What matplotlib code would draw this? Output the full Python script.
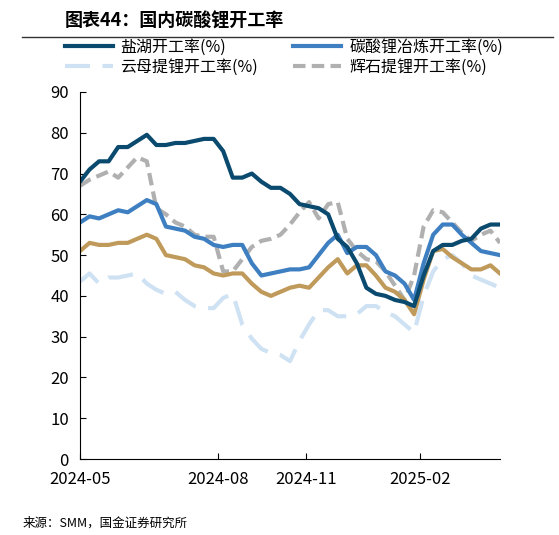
import matplotlib.pyplot as plt
from matplotlib.lines import Line2D

plt.rcParams['font.family'] = ['Noto Sans CJK SC', 'DejaVu Sans']

salt_lake = [68, 71, 73, 73, 76.5, 76.5, 78, 79.5, 77, 77, 77.5, 77.5, 78, 78.5, 78.5,
             75.5, 69, 69, 70, 68, 66.5, 66.5, 65, 62.5, 62, 61.5, 60, 54, 52, 48,
             42, 40.5, 40, 39, 38.5, 37.5, 45, 51, 52.5, 52.5, 53.5, 54, 56.5, 57.5, 57.5]
carbonate = [58, 59.5, 59, 60, 61, 60.5, 62, 63.5, 62.5, 57, 56.5, 56, 54.5, 54, 52.5,
             52, 52.5, 52.5, 48, 45, 45.5, 46, 46.5, 46.5, 47, 50, 53, 55, 50.5, 52,
             52, 50, 46, 45, 43, 39, 48, 55, 57.5, 57.5, 55, 53, 51, 50.5, 50]
total = [51, 53, 52.5, 52.5, 53, 53, 54, 55, 54, 50, 49.5, 49, 47.5, 47, 45.5,
         45, 45.5, 45.5, 43, 41, 40, 41, 42, 42.5, 42, 44.5, 47, 49, 45.5, 47.5,
         47.5, 45, 42, 41, 39, 35.5, 44, 51, 51.5, 49.5, 48, 46.5, 46.5, 47.5, 45.5]
lepidolite = [43.5, 45.5, 43, 44.5, 44.5, 45, 45.5, 43, 41.5, 40.5, 41, 39, 37.5, 37, 37,
              39.5, 40.5, 33, 29.5, 27, 26, 25.5, 24, 29, 33, 36.5, 36.5, 35, 35, 35.5,
              37.5, 37.5, 36, 35, 33, 31, 40, 46, 49, 50, 48, 45, 44, 43, 42]
spodumene = [67, 68.5, 69.5, 70.5, 69, 71.5, 74, 73, 61.5, 60, 58, 57, 55, 54.5, 54.5,
             46, 46, 49, 52, 53.5, 54, 55, 57.5, 60.5, 63, 59, 62.5, 63, 54, 51,
             49, 48.5, 46, 42.5, 39, 45, 57, 61, 60.5, 58, 55.5, 53.5, 55, 56, 53]
tick_pos = [0, 14.5, 23.7, 35.6]
tick_labels = ['2024-05', '2024-08', '2024-11', '2025-02']

fig = plt.figure(figsize=(5.59, 5.35), dpi=100)
ax = fig.add_axes([80 / 559, 1 - 459 / 535, 420 / 559, 367 / 535])
x = range(len(salt_lake))

ax.plot(x, lepidolite, color='#cfe2f3', lw=3, dashes=(6, 3))
ax.plot(x, spodumene, color='#b0b0b0', lw=3, dashes=(3, 1.5))
ax.plot(x, total, color='#c09a5b', lw=3)
ax.plot(x, carbonate, color='#3e7fc1', lw=3)
ax.plot(x, salt_lake, color='#0b4a6f', lw=3)

ax.set_ylim(0, 90)
ax.set_yticks(range(0, 91, 10))
ax.set_xlim(0, len(salt_lake) - 1)
ax.set_xticks(tick_pos)
ax.set_xticklabels(tick_labels)
ax.tick_params(labelsize=12, length=4, direction='in')
ax.tick_params(axis='x', pad=9)
ax.tick_params(axis='y', pad=8)
for s in ['top', 'right']:
    ax.spines[s].set_visible(False)

handles = [Line2D([], [], color='#0b4a6f', lw=3),
           Line2D([], [], color='#cfe2f3', lw=3, dashes=(6, 3)),
           Line2D([], [], color='#3e7fc1', lw=3),
           Line2D([], [], color='#b0b0b0', lw=3, dashes=(3, 1.5))]
labels = ['盐湖开工率(%)', '云母提锂开工率(%)', '碳酸锂冶炼开工率(%)', '辉石提锂开工率(%)']
fig.legend(handles, labels, ncol=2, loc='upper left', bbox_to_anchor=(0.09, 0.955),
           frameon=False, fontsize=11.5, handlelength=3, columnspacing=2.2,
           handletextpad=0.5, labelspacing=0.2)

fig.text(0.115, 0.96, '图表44：国内碳酸锂开工率', fontsize=13, fontweight='bold',
         style='italic', va='center')
fig.add_artist(Line2D([0.04, 0.99], [0.93, 0.93], color='#333333', lw=1))
fig.text(0.04, 0.023, '来源：SMM，国金证券研究所', fontsize=9, va='center')

fig.savefig('out.png')
